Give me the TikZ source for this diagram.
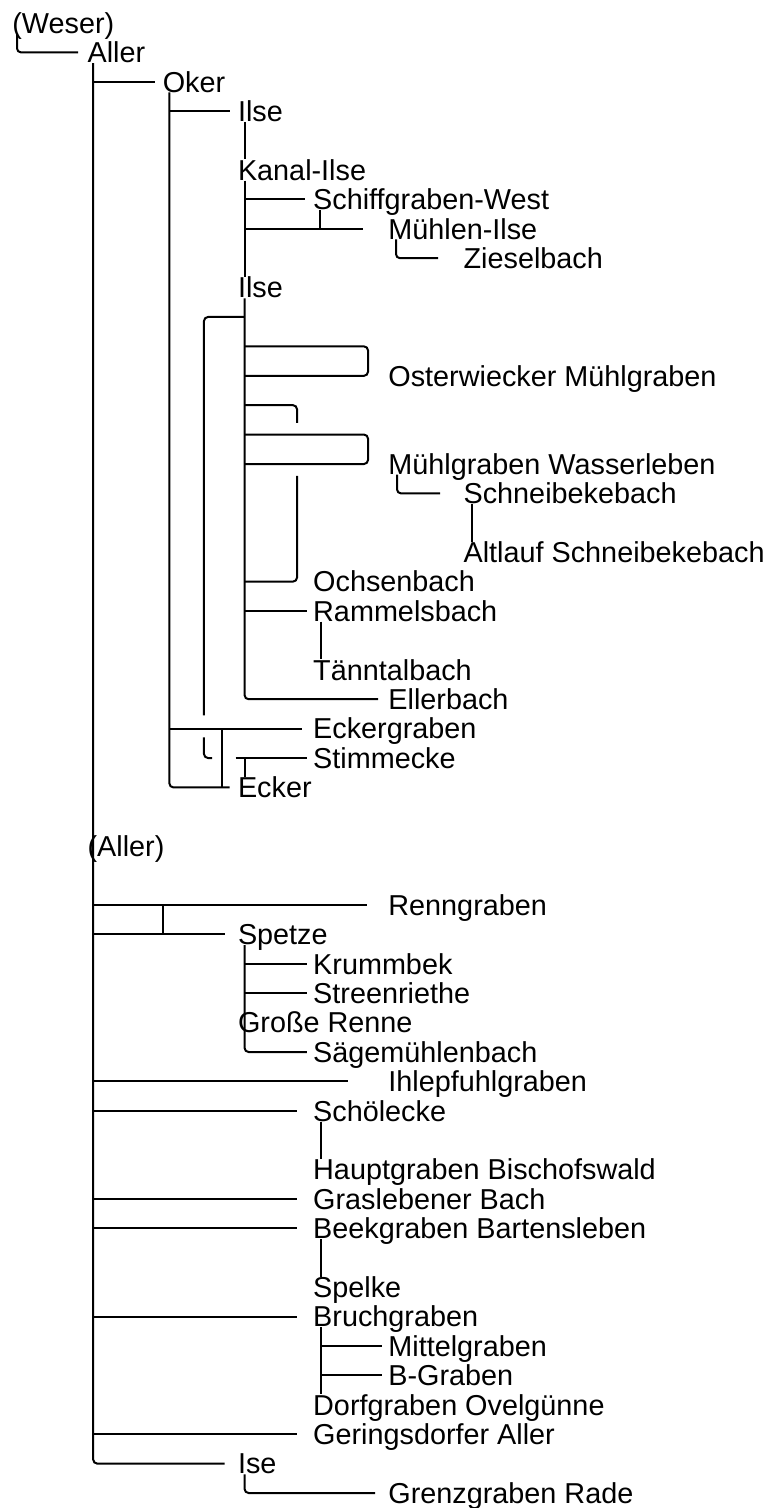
\documentclass[tikz,border=0pt]{standalone}
\usepackage{fontspec}
\setmainfont{Liberation Sans}
\begin{document}
\begin{tikzpicture}[x=37.6pt, y=-14.7pt,
	fluss/.style={anchor=west, inner sep=0pt, text height=10.3pt, text depth=0pt, font=\fontsize{14.4}{17}\selectfont},
	linie/.style={line width=1pt},
	ende/.style={linie, rounded corners=2pt}]
	\useasboundingbox (-6pt, 11.5pt) rectangle (381.5pt, -742.5pt);

	% Flussnamen (Spalte, Zeile)
	\node[fluss] (weser) at (0,0) {(Weser)};
	\node[fluss] (aller) at (1,1) {Aller};
	\node[fluss] (oker) at (2,2) {Oker};
	\node[fluss] (ilseA) at (3,3) {Ilse};
	\node[fluss] (kanalilse) at (3,5) {Kanal-Ilse};
	\node[fluss] (schiffgraben) at (4,6) {Schiffgraben-West};
	\node[fluss] (muehlenilse) at (5,7) {Mühlen-Ilse};
	\node[fluss] (zieselbach) at (6,8) {Zieselbach};
	\node[fluss] (ilseB) at (3,9) {Ilse};
	\node[fluss] (osterwiecker) at (5,12) {Osterwiecker Mühlgraben};
	\node[fluss] (muehlgraben) at (5,15) {Mühlgraben Wasserleben};
	\node[fluss] (schneibeke) at (6,16) {Schneibekebach};
	\node[fluss] (altlauf) at (6,18) {Altlauf Schneibekebach};
	\node[fluss] (ochsenbach) at (4,19) {Ochsenbach};
	\node[fluss] (rammelsbach) at (4,20) {Rammelsbach};
	\node[fluss] (taenntal) at (4,22) {Tänntalbach};
	\node[fluss] (ellerbach) at (5,23) {Ellerbach};
	\node[fluss] (eckergraben) at (4,24) {Eckergraben};
	\node[fluss] (stimmecke) at (4,25) {Stimmecke};
	\node[fluss] (ecker) at (3,26) {Ecker};
	\node[fluss] (allerB) at (1,28) {(Aller)};
	\node[fluss] (renngraben) at (5,30) {Renngraben};
	\node[fluss] (spetze) at (3,31) {Spetze};
	\node[fluss] (krummbek) at (4,32) {Krummbek};
	\node[fluss] (streenriethe) at (4,33) {Streenriethe};
	\node[fluss] (grosserenne) at (3,34) {Große Renne};
	\node[fluss] (saegemuehle) at (4,35) {Sägemühlenbach};
	\node[fluss] (ihlepfuhl) at (5,36) {Ihlepfuhlgraben};
	\node[fluss] (schoelecke) at (4,37) {Schölecke};
	\node[fluss] (hauptgraben) at (4,39) {Hauptgraben Bischofswald};
	\node[fluss] (graslebener) at (4,40) {Graslebener Bach};
	\node[fluss] (beekgraben) at (4,41) {Beekgraben Bartensleben};
	\node[fluss] (spelke) at (4,43) {Spelke};
	\node[fluss] (bruchgraben) at (4,44) {Bruchgraben};
	\node[fluss] (mittelgraben) at (5,45) {Mittelgraben};
	\node[fluss] (bgraben) at (5,46) {B-Graben};
	\node[fluss] (dorfgraben) at (4,47) {Dorfgraben Ovelgünne};
	\node[fluss] (geringsdorf) at (4,48) {Geringsdorfer Aller};
	\node[fluss] (ise) at (3,49) {Ise};
	\node[fluss] (grenzgraben) at (5,50) {Grenzgraben Rade};

	% Weser und Aller
	\draw[ende] ([xshift=2.5pt]weser.south west) |- ([xshift=-4.5pt]aller.west);
	\coordinate (a-aller) at ([xshift=3pt]aller.south west);
	\draw[ende] (a-aller) |- ([xshift=-6.5pt]ise.west);
	\foreach \ziel/\luecke in {oker/3.5,renngraben/10.5,spetze/6.5,ihlepfuhl/20,schoelecke/8,graslebener/8,beekgraben/8,bruchgraben/8,geringsdorf/8}
		\draw[linie] (a-aller |- \ziel.west) -- ([xshift=-\luecke pt]\ziel.west);

	% Oker
	\coordinate (a-oker) at ([xshift=3.5pt]oker.south west);
	\draw[ende] (a-oker) |- ([xshift=-4pt]ecker.west);
	\draw[linie] (a-oker |- ilseA.west) -- ([xshift=-4pt]ilseA.west);
	\draw[linie] (a-oker |- eckergraben.west) -- ([xshift=-5.5pt]eckergraben.west);

	% Ilse oben
	\draw[linie] ([xshift=3.5pt]ilseA.south west) -- ([xshift=3.5pt]kanalilse.north west);
	\coordinate (a-kanal) at ([xshift=3.5pt]kanalilse.south west);
	\draw[linie] (a-kanal) -- ([xshift=3.5pt]ilseB.north west);
	\draw[linie] (a-kanal |- schiffgraben.west) -- ([xshift=-4pt]schiffgraben.west);
	\draw[linie] (a-kanal |- muehlenilse.west) -- ([xshift=-12.5pt]muehlenilse.west);
	\coordinate (a-schiff) at ([xshift=3.5pt]schiffgraben.south west);
	\draw[linie] (a-schiff) -- (a-schiff |- muehlenilse.west);
	\draw[ende] ([xshift=4pt]muehlenilse.south west) |- ([xshift=-12.5pt]zieselbach.west);

	% Ilse unten
	\coordinate (a-ilse) at ([xshift=3.5pt]ilseB.south west);
	\coordinate (schleife) at (2.553,23.55);
	\coordinate (haken-a) at (2.553,24.3);
	\coordinate (haken-b) at (2.66,25);
	\coordinate (haken-m) at (3.79,13.6);
	\coordinate (haken-o) at (3.79,15.4);
	\draw[ende] (a-ilse) |- ([xshift=-5pt]ellerbach.west);
	\draw[ende] (a-ilse |- 0,10) -| (schleife);
	\draw[ende] (haken-a) |- (haken-b);
	\draw[ende] (a-ilse |- 0,11) -| ([xshift=-10pt]osterwiecker.west) -- (a-ilse |- osterwiecker.west);
	\draw[ende] (a-ilse |- 0,13) -| (haken-m);
	\draw[ende] (a-ilse |- 0,14) -| ([xshift=-10pt]muehlgraben.west) -- (a-ilse |- muehlgraben.west);
	\draw[ende] (a-ilse |- ochsenbach.west) -| (haken-o);
	\draw[linie] (a-ilse |- rammelsbach.west) -- ([xshift=-3pt]rammelsbach.west);
	\draw[linie] ([xshift=4pt]rammelsbach.south west) -- ([xshift=4pt]taenntal.north west);
	\draw[ende] ([xshift=4.5pt]muehlgraben.south west) |- ([xshift=-11.5pt]schneibeke.west);
	\draw[linie] ([xshift=4.5pt]schneibeke.south west) -- ([xshift=4.5pt]altlauf.north west);

	% Ecker
	\draw[linie] ([xshift=-8pt]ecker.west) -- ([xshift=-8pt,yshift=29.4pt]ecker.west);
	\draw[linie] ([xshift=-1pt,yshift=14.7pt]ecker.west) -- ([xshift=-3pt]stimmecke.west);
	\draw[linie] ([xshift=3.5pt]ecker.north west) -- ([xshift=3.5pt,yshift=14.7pt]ecker.west);

	% Spetze
	\draw[linie] ([xshift=-37.5pt]spetze.west) -- ([xshift=-37.5pt,yshift=14.7pt]spetze.west);
	\coordinate (a-spetze) at ([xshift=3.5pt]spetze.south west);
	\draw[ende] (a-spetze) |- ([xshift=-3pt]saegemuehle.west);
	\foreach \ziel in {krummbek,streenriethe}
		\draw[linie] (a-spetze |- \ziel.west) -- ([xshift=-3pt]\ziel.west);

	% untere Zufluesse
	\draw[linie] ([xshift=4pt]schoelecke.south west) -- ([xshift=4pt]hauptgraben.north west);
	\draw[linie] ([xshift=4pt]beekgraben.south west) -- ([xshift=4pt]spelke.north west);
	\coordinate (a-bruch) at ([xshift=4pt]bruchgraben.south west);
	\draw[linie] (a-bruch) -- ([xshift=4pt]dorfgraben.north west);
	\foreach \ziel in {mittelgraben,bgraben}
		\draw[linie] (a-bruch |- \ziel.west) -- ([xshift=-3pt]\ziel.west);
	\draw[ende] ([xshift=3.5pt]ise.south west) |- ([xshift=-6.5pt]grenzgraben.west);
\end{tikzpicture}
\end{document}
